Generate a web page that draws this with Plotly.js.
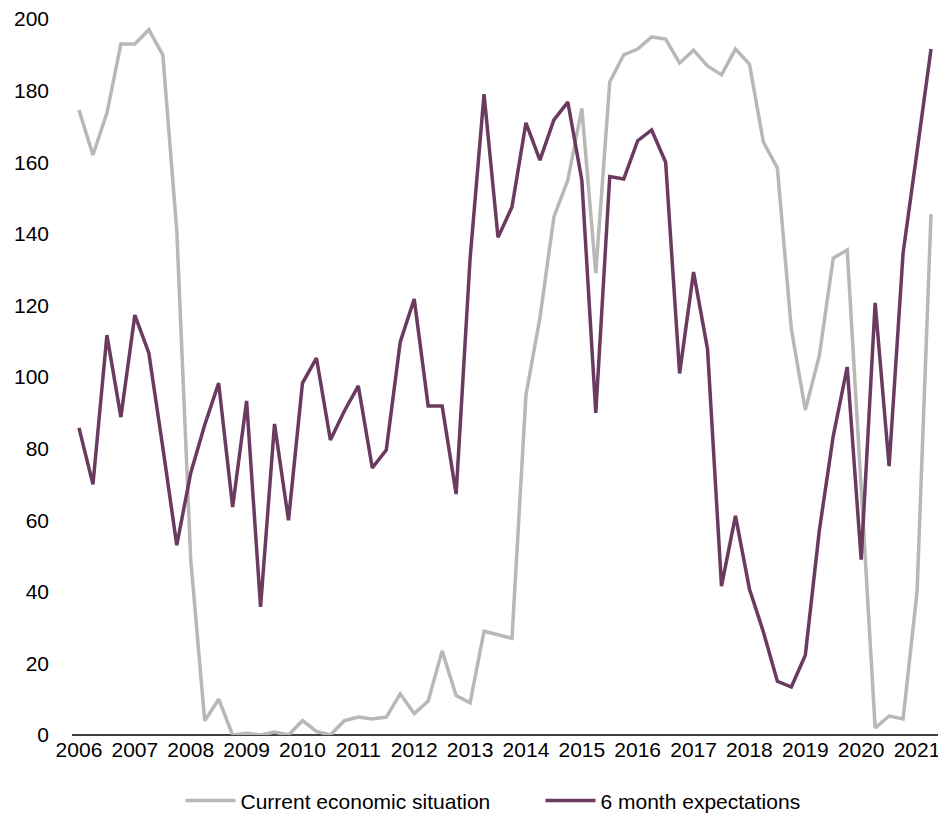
<!DOCTYPE html>
<html>
<head>
<meta charset="utf-8">
<script src="https://cdn.plot.ly/plotly-3.0.1.min.js"></script>
<style>html,body{margin:0;padding:0;background:#fff;}#chart{width:938px;height:815px;}</style>
</head>
<body>
<div id="chart"></div>
<script>
// Quarterly observations, 2006 Q1 – 2021 Q2
const years = ["2006","2007","2008","2009","2010","2011","2012","2013","2014","2015","2016","2017","2018","2019","2020","2021"];
const currentSituation = [
  174.6, 162, 173.7, 193, 193, 197, 190, 141,
  49, 4, 10, 0, 0.5, 0, 0.8, 0,
  4, 1, 0, 4, 5, 4.5, 5, 11.5,
  6, 9.5, 23.5, 11, 9, 29, 28, 27,
  95, 116.5, 144.7, 155, 175, 129, 182.4, 190,
  191.6, 195, 194.4, 187.7, 191.3, 186.9, 184.4, 191.6,
  187.4, 165.6, 158.4, 113.4, 90.8, 105.9, 133.2, 135.5,
  69, 2, 5.3, 4.5, 40, 145.5
];
const expectations = [
  85.8, 70, 111.7, 88.8, 117.3, 106.7, 80.4, 53,
  73.2, 86.6, 98.3, 63.7, 93.3, 35.8, 86.9, 60,
  98.3, 105.3, 82.4, 90.5, 97.5, 74.6, 79.6, 109.8,
  121.8, 91.9, 91.9, 67.3, 133, 179, 139, 147.5,
  171, 160.6, 171.8, 176.8, 155, 90, 156, 155.3,
  166, 169, 160, 101, 129.3, 107.8, 41.6, 61.2,
  40.8, 28.8, 15, 13.4, 22.3, 57, 83.5, 102.8,
  49, 120.7, 75.1, 134.6, 163, 191.6
];
const seriesNames = ["Current economic situation", "6 month expectations"];

const idx = currentSituation.map((_, i) => i);
const tickIdx = years.map((_, i) => i * 4);

const traces = [
  {x: idx, y: currentSituation, name: seriesNames[0], type: "scatter", mode: "lines",
   line: {color: "#b8b8b6", width: 3.5}},
  {x: idx, y: expectations, name: seriesNames[1], type: "scatter", mode: "lines",
   line: {color: "#6a3a5f", width: 3.5}}
];

const layout = {
  width: 938, height: 815,
  margin: {l: 72, r: 0, t: 19, b: 80, autoexpand: false},
  paper_bgcolor: "#fff", plot_bgcolor: "#fff",
  font: {family: "Liberation Sans, Arial, sans-serif", size: 21, color: "#000"},
  showlegend: true,
  legend: {orientation: "h", x: 0.541, xanchor: "center", y: -0.092, yanchor: "middle",
           font: {size: 21}, traceorder: "normal", itemwidth: 50,
           entrywidth: 295, entrywidthmode: "pixels"},
  xaxis: {range: [-0.5, 61.5], tickmode: "array", tickvals: tickIdx, ticktext: years,
          showgrid: false, zeroline: false, showline: false, ticks: "",
          ticklabeloverflow: "allow", tickfont: {size: 21}, fixedrange: true},
  yaxis: {range: [0, 200], tickmode: "linear", tick0: 0, dtick: 20,
          showgrid: false, zeroline: true, zerolinecolor: "#404040", zerolinewidth: 1.5,
          showline: false, ticks: "", ticklabelstandoff: 22, tickfont: {size: 21}, fixedrange: true}
};

Plotly.newPlot("chart", traces, layout, {displayModeBar: false, staticPlot: true});
</script>
</body>
</html>
